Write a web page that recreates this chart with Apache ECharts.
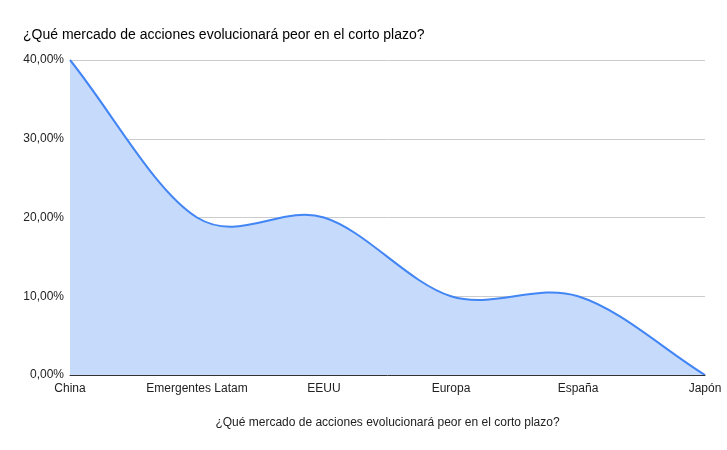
<!DOCTYPE html>
<html>
<head>
<meta charset="utf-8">
<script src="https://cdn.jsdelivr.net/npm/echarts@6/dist/echarts.min.js"></script>
<style>html,body{margin:0;padding:0;background:#fff}#c{width:727px;height:450px}</style>
</head>
<body>
<div id="c"></div>
<script>
var titleText = '¿Qué mercado de acciones evolucionará peor en el corto plazo?';
var categories = ['China', 'Emergentes Latam', 'EEUU', 'Europa', 'España', 'Japón'];
var values = [0.40, 0.20, 0.20, 0.10, 0.10, 0.00];
var yTicks = [0, 0.10, 0.20, 0.30, 0.40];

var chart = echarts.init(document.getElementById('c'), null, {renderer: 'canvas'});
var fam = 'Arial, "Liberation Sans", sans-serif';

function renderCurve(params, api) {
  if (params.dataIndex !== 0) return null;
  var pts = [];
  for (var i = 0; i < values.length; i++) {
    pts.push(api.coord([i, values[i]]));
  }
  var n = pts.length;
  var tan = [];
  for (var k = 0; k < n; k++) {
    var a = pts[Math.max(k - 1, 0)], b = pts[Math.min(k + 1, n - 1)];
    var div = (k === 0 || k === n - 1) ? 1 : 2;
    tan.push([(b[0] - a[0]) / div, (b[1] - a[1]) / div]);
  }
  var d = 'M' + pts[0][0] + ' ' + pts[0][1];
  for (var j = 0; j < n - 1; j++) {
    var p0 = pts[j], p1 = pts[j + 1];
    var c1 = [p0[0] + tan[j][0] / 3, p0[1] + tan[j][1] / 3];
    var c2 = [p1[0] - tan[j + 1][0] / 3, p1[1] - tan[j + 1][1] / 3];
    d += ' C' + c1[0] + ' ' + c1[1] + ' ' + c2[0] + ' ' + c2[1] + ' ' + p1[0] + ' ' + p1[1];
  }
  var base0 = api.coord([n - 1, 0]), base1 = api.coord([0, 0]);
  var area = d + ' L' + base0[0] + ' ' + base0[1] + ' L' + base1[0] + ' ' + base1[1] + ' Z';
  return {
    type: 'group',
    children: [
      {type: 'path', shape: {pathData: area}, style: {fill: '#c6dafc', stroke: null}},
      {type: 'path', shape: {pathData: d}, style: {fill: null, stroke: '#4285f4', lineWidth: 2}}
    ]
  };
}

chart.setOption({
  animation: false,
  textStyle: {fontFamily: fam},
  title: {
    text: titleText, left: 18, top: 23,
    textStyle: {fontSize: 14, fontWeight: 'normal', color: '#000', fontFamily: fam}
  },
  grid: {left: 70, right: 22, top: 60, bottom: 75, containLabel: false},
  xAxis: {
    type: 'category', data: categories, boundaryGap: false,
    name: titleText, nameLocation: 'middle', nameGap: 42,
    nameTextStyle: {fontSize: 12, color: '#222', fontFamily: fam},
    axisLine: {show: true, lineStyle: {color: '#333', width: 1}},
    axisTick: {show: false},
    axisLabel: {fontSize: 12, color: '#222', margin: 8, interval: 0, fontFamily: fam},
    splitLine: {show: false},
    z: 5
  },
  yAxis: {
    type: 'value', min: yTicks[0], max: yTicks[yTicks.length - 1], interval: 0.10,
    axisLine: {show: false}, axisTick: {show: false},
    axisLabel: {
      fontSize: 12, color: '#222', margin: 6, fontFamily: fam,
      formatter: function (v) { return (v * 100).toFixed(2).replace('.', ',') + '%'; }
    },
    splitLine: {lineStyle: {color: '#cccccc', width: 1}}
  },
  series: [{
    type: 'custom',
    renderItem: renderCurve,
    data: values.map(function (v, i) { return [i, v]; }),
    encode: {x: 0, y: 1},
    clip: false,
    z: 3
  }]
});
</script>
</body>
</html>
